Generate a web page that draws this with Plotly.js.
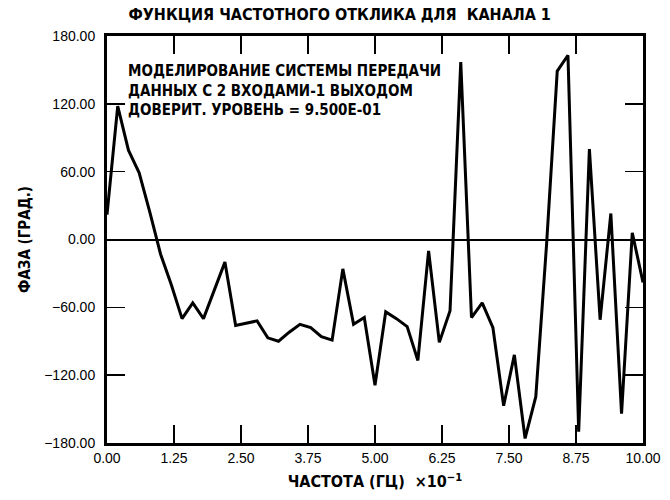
<!DOCTYPE html>
<html>
<head>
<meta charset="utf-8">
<script src="https://cdn.plot.ly/plotly-3.0.1.min.js"></script>
<style>
  html, body { margin: 0; padding: 0; background: #fff; }
  #chart { width: 670px; height: 500px; }
</style>
</head>
<body>
<div id="chart"></div>
<script>
// Frequency (Hz ×10^-1)
const freq = [0.0, 0.2, 0.4, 0.6, 0.8, 1.0, 1.2, 1.4, 1.6, 1.8,
              2.0, 2.2, 2.4, 2.6, 2.8, 3.0, 3.2, 3.4, 3.6, 3.8,
              4.0, 4.2, 4.4, 4.6, 4.8, 5.0, 5.2, 5.4, 5.6, 5.8,
              6.0, 6.2, 6.4, 6.6, 6.8, 7.0, 7.2, 7.4, 7.6, 7.8,
              8.0, 8.2, 8.4, 8.6, 8.8, 9.0, 9.2, 9.4, 9.6, 9.8, 10.0];
// Phase (degrees)
const phase = [22, 118, 79, 59, 24, -13, -40, -70, -56, -70,
               -45, -20, -76, -74, -72, -87, -90, -82, -75, -78,
               -86, -89, -26, -75, -69, -129, -64, -70, -77, -107,
               -10, -91, -63, 157, -69, -56, -78, -147, -102, -176,
               -139, -5, 149, 163, -170, 80, -71, 23, -154, 6, -38];

const xTicks = [0, 1.25, 2.5, 3.75, 5, 6.25, 7.5, 8.75, 10];
const yTicks = [-180, -120, -60, 0, 60, 120, 180];

const titleText = "ФУНКЦИЯ ЧАСТОТНОГО ОТКЛИКА ДЛЯ  КАНАЛА 1";
const xTitle = "ЧАСТОТА (ГЦ)  ×10<sup>−1</sup>";
const yTitle = "ФАЗА (ГРАД.)";
const noteLines = ["МОДЕЛИРОВАНИЕ СИСТЕМЫ ПЕРЕДАЧИ",
                   "ДАННЫХ С 2 ВХОДАМИ-1 ВЫХОДОМ",
                   "ДОВЕРИТ. УРОВЕНЬ = 9.500E-01"];

const condFont = "DejaVu Sans Condensed, Liberation Sans Narrow, Arial Narrow, sans-serif";
const tickFont = {family: "Liberation Sans, Arial, sans-serif", size: 14, color: "#000"};

const trace = {
  x: freq, y: phase, type: "scatter", mode: "lines",
  line: {color: "#000", width: 3},
  hoverinfo: "skip"
};

const axisCommon = {
  showgrid: false, showline: true, linecolor: "#000", linewidth: 3,
  mirror: "allticks", ticks: "inside", ticklen: 18, tickwidth: 1.5, tickcolor: "#000",
  tickfont: tickFont, tickformat: ".2f"
};

const layout = {
  width: 670, height: 500,
  margin: {l: 107, r: 27, t: 36, b: 57},
  paper_bgcolor: "#fff", plot_bgcolor: "#fff",
  showlegend: false,
  title: {text: titleText, x: 0.507, xanchor: "center", y: 0.972, yanchor: "middle",
          font: {family: condFont, size: 16, color: "#000", weight: "bold"}},
  xaxis: Object.assign({}, axisCommon, {
    range: [0, 10], tickmode: "array", tickvals: xTicks,
    zeroline: false,
    title: {text: xTitle, standoff: 12,
            font: {family: condFont, size: 16, color: "#000", weight: "bold"}}
  }),
  yaxis: Object.assign({}, axisCommon, {
    range: [-180, 180], tickmode: "array", tickvals: yTicks,
    zeroline: true, zerolinecolor: "#000", zerolinewidth: 2,
    ticklabelstandoff: 6,
    title: {text: yTitle, standoff: 10,
            font: {family: condFont, size: 15, color: "#000", weight: "bold"}}
  }),
  annotations: [{
    xref: "paper", yref: "paper", x: 0.035, y: 0.94, xanchor: "left", yanchor: "top",
    align: "left", showarrow: false,
    text: noteLines.join("<br>"),
    font: {family: condFont, size: 15, color: "#000", weight: "bold"}
  }]
};

Plotly.newPlot("chart", [trace], layout, {staticPlot: true, displayModeBar: false});
</script>
</body>
</html>
